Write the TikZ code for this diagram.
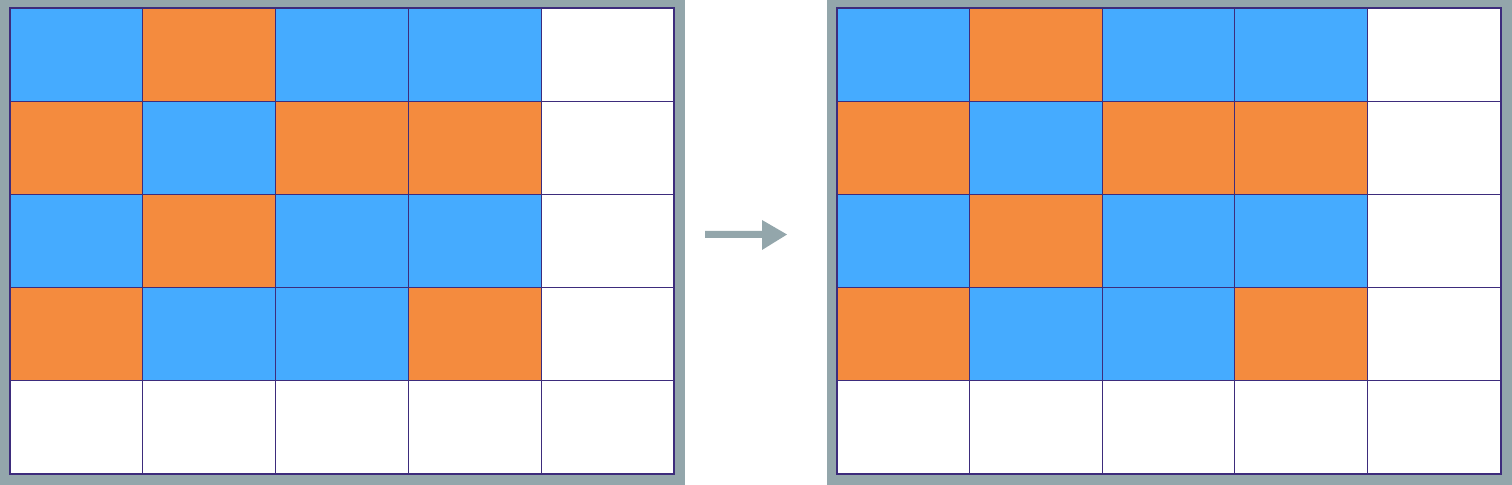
\documentclass[tikz,border=0pt]{standalone}
\usetikzlibrary{arrows.meta}
\definecolor{cblue}{HTML}{45ABFF}
\definecolor{corange}{HTML}{F48B3E}
\definecolor{cline}{HTML}{3D2C7C}
\definecolor{cframe}{HTML}{93A6AB}
\tikzset{
  framebox/.style={fill=cframe,draw=none},
  cellB/.style={fill=cblue,draw=cline,line width=0.5pt},
  cellO/.style={fill=corange,draw=cline,line width=0.5pt},
  cellW/.style={fill=white,draw=cline,line width=0.5pt},
  gridborder/.style={draw=cline,line width=1pt},
  arrowshape/.style={fill=cframe,draw=none}
}
\newcommand{\drawgrid}[2]{%
  % #1 = x offset of grid left, #2 = name prefix
  \foreach \row/\pat in {0/{B,O,B,B,W},1/{O,B,O,O,W},2/{B,O,B,B,W},3/{O,B,B,O,W},4/{W,W,W,W,W}} {
    \foreach \c [count=\col from 0] in \pat {
      \path[cell\c] ({#1+\col*132.8},{8+\row*93.2}) rectangle ++(132.8,93.2);
    }
  }
  \draw[gridborder] (#1,8) rectangle ({#1+664},474);
}
\begin{document}
\begin{tikzpicture}[x=0.5pt,y=-0.5pt]
\useasboundingbox (0,0) rectangle (1512,485);
\fill[framebox] (0,0) rectangle (685,485);
\fill[framebox] (827,0) rectangle (1512,485);
\drawgrid{10}{L}
\drawgrid{836.5}{R}
\coordinate (a1) at (705,231);
\coordinate (a2) at (787,234.5);
\fill[arrowshape] (a1) -- (762,231) -- (762,220) -- (a2) -- (762,250) -- (762,238) -- (705,238) -- cycle;
\end{tikzpicture}
\end{document}
